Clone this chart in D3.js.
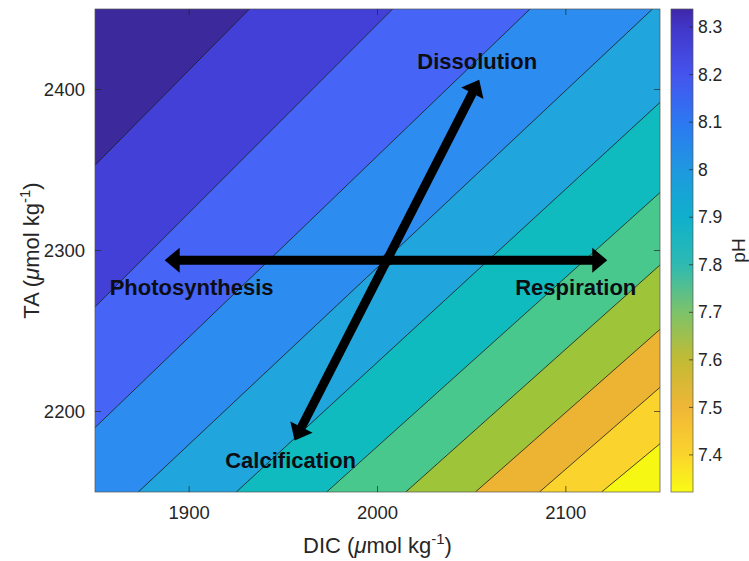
<!DOCTYPE html>
<html>
<head>
<meta charset="utf-8">
<title>pH contours DIC / TA</title>
<script src="https://d3js.org/d3.v7.min.js"></script>
<style>
  body { margin: 0; background: #fff; }
  text { font-family: "Liberation Sans", Arial, Helvetica, sans-serif; }
</style>
</head>
<body>
<script type="text/javascript">
	var width  = 749;
	var height = 561;
	var plot   = { left: 95, right: 660, top: 9, bottom: 492 };
	var cbar   = { left: 671, right: 693 };

	// axis extents and ticks
	var dicRange = [1850, 2150];
	var taRange  = [2150, 2450];
	var dicTicks = [1900, 2000, 2100];
	var taTicks  = [2200, 2300, 2400];

	// contour levels (pH) and where each line meets the plot edges, [DIC, TA]
	var levels    = [8.3, 8.2, 8.1, 8.0, 7.9, 7.8, 7.7, 7.6, 7.5, 7.4];
	var lineStart = [[1850, 2353], [1850, 2265], [1850, 2190], [1873, 2150], [1925, 2150],
	                 [1973, 2150], [2015, 2150], [2052, 2150], [2086, 2150], [2119, 2150]];
	var lineEnd   = [[1932, 2450], [2008, 2450], [2081, 2450], [2146, 2450], [2150, 2392],
	                 [2150, 2336], [2150, 2291], [2150, 2251], [2150, 2215], [2150, 2180]];

	// fill of each band, from pH > 8.3 down to pH < 7.4
	var bandColours = ["#3c2a9c", "#4340d8", "#4664f5", "#2d8cf0", "#20a5dc", "#10bbbf",
	                   "#48c88c", "#9ec43a", "#ecb432", "#fad42d", "#f7f714"];

	// colour bar
	var phRange   = [7.322, 8.338];
	var phTicks   = [7.4, 7.5, 7.6, 7.7, 7.8, 7.9, 8.0, 8.1, 8.2, 8.3];
	var cbarStops = [7.322, 7.4, 7.5, 7.6, 7.7, 7.8, 7.9, 8.0, 8.1, 8.2, 8.3, 8.338];
	var cbarCols  = ["#f9fb15", "#fad42d", "#f0b637", "#c2bb34", "#7dc36a", "#2dbab2",
	                 "#0fb0cc", "#1f98e0", "#2d78f2", "#4554ee", "#4136c8", "#3e26a8"];

	// process arrows: centre and ends, [DIC, TA]
	var arrowCentre = [2005, 2294];
	var arrowNames  = ["Dissolution", "Calcification", "Photosynthesis", "Respiration"];
	var arrowEnds   = [[2054, 2406], [1956, 2182], [1887, 2294], [2122, 2294]];

	var xScale = d3.scaleLinear().domain(dicRange).range([plot.left, plot.right]);
	var yScale = d3.scaleLinear().domain(taRange).range([plot.bottom, plot.top]);
	var cScale = d3.scaleLinear().domain(phRange).range([plot.bottom, plot.top]);
	var colourScale = d3.scaleLinear().domain(cbarStops).range(cbarCols);

	var svg = d3.select("body").append("svg")
		.attr("width", width)
		.attr("height", height);

	var defs = svg.append("defs");
	defs.append("clipPath").attr("id", "plotClip")
		.append("rect")
		.attr("x", plot.left).attr("y", plot.top)
		.attr("width", plot.right - plot.left).attr("height", plot.bottom - plot.top);

	// position of a boundary point going clockwise round the box from top-left
	function perim(p) {
		var span = dicRange[1] - dicRange[0], tspan = taRange[1] - taRange[0];
		if (p[1] === taRange[1]) return (p[0] - dicRange[0]) / span;
		if (p[0] === dicRange[1]) return 1 + (taRange[1] - p[1]) / tspan;
		if (p[1] === taRange[0]) return 2 + (dicRange[1] - p[0]) / span;
		return 3 + (p[1] - taRange[0]) / tspan;
	}
	var corners = [[dicRange[0], taRange[1]], [dicRange[1], taRange[1]],
	               [dicRange[1], taRange[0]], [dicRange[0], taRange[0]]];

	// region on the low pH side (lower right) of a contour line
	function lowSide(a, b) {
		var pts = [a, b];
		var tb = perim(b), ta = perim(a);
		if (ta < tb) ta += 4;
		for (var c = Math.ceil(tb); c < ta; c++) {
			if (c > tb) pts.push(corners[c % 4]);
		}
		return pts;
	}

	var toPx = d3.line().x(d => xScale(d[0])).y(d => yScale(d[1]));

	var field = svg.append("g").attr("clip-path", "url(#plotClip)");
	field.append("path")
		.attr("d", toPx(corners) + "Z")
		.attr("fill", bandColours[0]);

	field.selectAll("path.band")
		.data(levels)
		.enter().append("path")
		.attr("class", "band")
		.attr("d", (d, i) => toPx(lowSide(lineStart[i], lineEnd[i])) + "Z")
		.attr("fill", (d, i) => bandColours[i + 1])
		.attr("stroke", (d, i) => bandColours[i + 1])
		.attr("stroke-width", 0.5);

	field.selectAll("path.cline")
		.data(levels)
		.enter().append("path")
		.attr("class", "cline")
		.attr("d", (d, i) => toPx([lineStart[i], lineEnd[i]]))
		.attr("fill", "none")
		.attr("stroke", "#1a1a1a")
		.attr("stroke-width", 0.8);

	// arrows
	var shaftW = 9, headLen = 15, headHalf = 12.5;
	var arrows = svg.append("g");
	arrowEnds.forEach(function (end) {
		var x0 = xScale(arrowCentre[0]), y0 = yScale(arrowCentre[1]);
		var x1 = xScale(end[0]), y1 = yScale(end[1]);
		var len = Math.hypot(x1 - x0, y1 - y0);
		var ux = (x1 - x0) / len, uy = (y1 - y0) / len;
		var bx = x1 - ux * headLen, by = y1 - uy * headLen;
		arrows.append("line")
			.attr("x1", x0 - ux * shaftW / 2).attr("y1", y0 - uy * shaftW / 2)
			.attr("x2", bx + ux).attr("y2", by + uy)
			.attr("stroke", "#000").attr("stroke-width", shaftW);
		arrows.append("polygon")
			.attr("points", [[x1, y1], [bx - uy * headHalf, by + ux * headHalf],
			                 [bx + uy * headHalf, by - ux * headHalf]].join(" "))
			.attr("fill", "#000");
	});

	// labels next to arrow tips (pixel offsets from the tip)
	var labelOffset = [[-2, -11, "middle"], [-4, 28, "middle"], [-55, 35, "start"], [29, 35, "end"]];
	svg.append("g").selectAll("text")
		.data(arrowNames)
		.enter().append("text")
		.attr("x", (d, i) => xScale(arrowEnds[i][0]) + labelOffset[i][0])
		.attr("y", (d, i) => yScale(arrowEnds[i][1]) + labelOffset[i][1])
		.attr("text-anchor", (d, i) => labelOffset[i][2])
		.attr("font-size", 22)
		.attr("font-weight", "bold")
		.attr("fill", "#0d0d14")
		.text(d => d);

	// axes box and ticks (inward, all four sides)
	var axisCol = "#262626", tickLen = 6;
	var ax = svg.append("g").attr("stroke", axisCol).attr("stroke-width", 0.7);
	ax.append("rect")
		.attr("x", plot.left).attr("y", plot.top)
		.attr("width", plot.right - plot.left).attr("height", plot.bottom - plot.top)
		.attr("fill", "none").attr("stroke", "#555");
	dicTicks.forEach(function (t) {
		ax.append("line").attr("x1", xScale(t)).attr("x2", xScale(t))
			.attr("y1", plot.bottom).attr("y2", plot.bottom - tickLen);
		ax.append("line").attr("x1", xScale(t)).attr("x2", xScale(t))
			.attr("y1", plot.top).attr("y2", plot.top + tickLen);
	});
	taTicks.forEach(function (t) {
		ax.append("line").attr("y1", yScale(t)).attr("y2", yScale(t))
			.attr("x1", plot.left).attr("x2", plot.left + tickLen);
		ax.append("line").attr("y1", yScale(t)).attr("y2", yScale(t))
			.attr("x1", plot.right).attr("x2", plot.right - tickLen);
	});

	svg.append("g").selectAll("text")
		.data(dicTicks)
		.enter().append("text")
		.attr("x", d => xScale(d)).attr("y", plot.bottom + 27)
		.attr("text-anchor", "middle").attr("font-size", 18.5).attr("fill", axisCol)
		.text(d => d);

	svg.append("g").selectAll("text")
		.data(taTicks)
		.enter().append("text")
		.attr("x", plot.left - 10).attr("y", d => yScale(d)).attr("dy", "0.35em")
		.attr("text-anchor", "end").attr("font-size", 18.5).attr("fill", axisCol)
		.text(d => d);

	function unitLabel(sel, name) {
		sel.append("tspan").text(name + " (");
		sel.append("tspan").attr("font-style", "italic").text("\u03bc");
		sel.append("tspan").text("mol kg");
		sel.append("tspan").attr("dy", -9).attr("font-size", 15).text("-1");
		sel.append("tspan").attr("dy", 9).text(")");
	}
	svg.append("text")
		.attr("x", (plot.left + plot.right) / 2).attr("y", 553)
		.attr("text-anchor", "middle").attr("font-size", 22).attr("fill", axisCol)
		.call(unitLabel, "DIC");
	svg.append("text")
		.attr("transform", "translate(39," + (plot.top + plot.bottom) / 2 + ") rotate(-90)")
		.attr("text-anchor", "middle").attr("font-size", 22).attr("fill", axisCol)
		.call(unitLabel, "TA");

	// colour bar
	var grad = defs.append("linearGradient").attr("id", "cbarGrad")
		.attr("x1", 0).attr("y1", 1).attr("x2", 0).attr("y2", 0);
	d3.range(0, 1.0001, 0.02).forEach(function (f) {
		var ph = phRange[0] + f * (phRange[1] - phRange[0]);
		grad.append("stop").attr("offset", f).attr("stop-color", colourScale(ph));
	});
	svg.append("rect")
		.attr("x", cbar.left).attr("y", plot.top)
		.attr("width", cbar.right - cbar.left).attr("height", plot.bottom - plot.top)
		.attr("fill", "url(#cbarGrad)")
		.attr("stroke", "#555").attr("stroke-width", 0.7);

	var cb = svg.append("g");
	cb.selectAll("line")
		.data(phTicks)
		.enter().append("line")
		.attr("x1", cbar.right).attr("x2", cbar.right - 4)
		.attr("y1", d => cScale(d)).attr("y2", d => cScale(d))
		.attr("stroke", axisCol).attr("stroke-width", 0.7);
	cb.selectAll("text")
		.data(phTicks)
		.enter().append("text")
		.attr("x", cbar.right + 5).attr("y", d => cScale(d)).attr("dy", "0.35em")
		.attr("font-size", 17.5).attr("fill", axisCol)
		.text(d => d3.format("~g")(d));

	svg.append("text")
		.attr("transform", "translate(745," + (plot.top + plot.bottom) / 2 + ") rotate(-90)")
		.attr("text-anchor", "middle").attr("font-size", 19).attr("fill", axisCol)
		.text("pH");
</script>
</body>
</html>
